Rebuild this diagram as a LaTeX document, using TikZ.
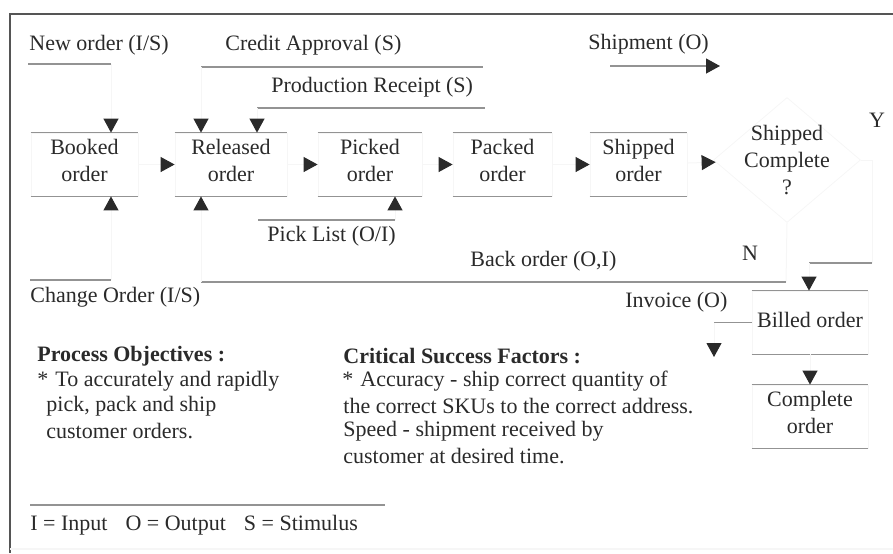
\documentclass[tikz,border=0pt]{standalone}
\usepackage{fontspec}
\setmainfont{Liberation Serif}
\usetikzlibrary{arrows.meta,shapes.geometric,calc}

\definecolor{inkc}{HTML}{2A2A2A}
\definecolor{rulec}{HTML}{939393}
\definecolor{faintc}{HTML}{F6F6F6}
\definecolor{framec}{HTML}{555555}

\begin{document}
\begin{tikzpicture}[x=0.5pt,y=-0.5pt,
  every node/.style={text=inkc, font=\fontsize{11}{13.5}\selectfont, inner sep=0pt},
  lbl/.style={anchor=west},
  statebox/.style={minimum height=31.5pt, align=center, draw=faintc, line width=0.4pt, text depth=4pt},
  rule/.style={draw=rulec, line width=0.6pt},
  faint/.style={draw=faintc, line width=0.5pt},
  tip/.style={-{Triangle[length=7pt,width=7.5pt,color=inkc,fill=inkc]}},
]
\useasboundingbox (0,0) rectangle (893,553);

% outer frame
\draw[framec, line width=0.9pt] (10,553) -- (10,14) -- (893,14);
\draw[faintc, line width=0.6pt] (10,549) -- (893,549);

% ---------- order states ----------
\node[statebox, minimum width=53.5pt] (booked)   at (84.5,164.5) {Booked\\order};
\node[statebox, minimum width=56pt]   (released) at (231,164.5)  {Released\\order};
\node[statebox, minimum width=52pt]   (picked)   at (370,164.5)  {Picked\\order};
\node[statebox, minimum width=49.5pt] (packed)   at (502.5,164.5){Packed\\order};
\node[statebox, minimum width=48.5pt] (shipped)  at (638.5,164.5){Shipped\\order};
\node[diamond, draw=faintc, line width=0.4pt, minimum width=73.5pt, minimum height=62.5pt,
      inner sep=-5pt, align=center] (dec) at (787,160) {Shipped\\Complete\\?};
\node[statebox, minimum width=58pt, text depth=3pt] (billed) at (810,322.5) {Billed order};
\node[statebox, minimum width=58pt]   (complete) at (810,416.5)  {Complete\\order};

% visible top and bottom rules of each state
\foreach \s in {booked,released,picked,packed,shipped,billed,complete}{
  \draw[rule] (\s.north west) -- (\s.north east);
  \draw[rule] (\s.south west) -- (\s.south east);
}

% main flow
\draw[faint, tip] (booked)   -- (released);
\draw[faint, tip] (released) -- (picked);
\draw[faint, tip] (picked)   -- (packed);
\draw[faint, tip] (packed)   -- (shipped);
\draw[faint, tip] (shipped)  -- (dec);
\draw[faint, tip] (billed)   -- (complete);

% ---------- inputs, outputs and stimuli ----------
\node[lbl] (newL)    at (29,45)  {New order (I/S)};
\node[lbl] (creditL) at (225,45) {Credit Approval (S)};
\node[lbl] (prodL)   at (271,87) {Production Receipt (S)};
\node[lbl] (shipL)   at (588,44) {Shipment (O)};
\node[lbl] (pickL)   at (267,236) {Pick List (O/I)};
\node[lbl] (backL)   at (470,261) {Back order (O,I)};
\node[lbl] (changeL) at (30,297) {Change Order (I/S)};
\node[lbl] (invL)    at (625,302) {Invoice (O)};
\node (yesL) at (877,120) {Y};
\node (noL)  at (750,253) {N};

% new order
\coordinate (noA) at (28,64);
\coordinate (noB) at (111,64);
\draw[rule] (noA) -- (noB);
\draw[faint, tip] (noB) -- (noB |- booked.north);

% credit approval
\coordinate (caA) at (201,67);
\coordinate (caB) at (483,67);
\draw[rule] (caA) -- (caB);
\draw[faint, tip] (caA) -- (caA |- released.north);

% production receipt
\coordinate (prA) at (257,108);
\coordinate (prB) at (485,108);
\draw[rule] (prA) -- (prB);
\draw[faint, tip] (prA) -- (prA |- released.north);

% shipment
\coordinate (shA) at (610,66);
\coordinate (shB) at (720,66);
\draw[rule, tip] (shA) -- (shB);

% change order
\coordinate (coA) at (30,280);
\coordinate (coB) at (111,280);
\draw[rule] (coA) -- (coB);
\draw[faint, tip] (coB) -- (coB |- booked.south);

% pick list
\coordinate (plA) at (258,220);
\coordinate (plB) at (395,220);
\draw[rule] (plA) -- (plB);
\draw[faint, tip] (plB) -- (plB |- picked.south);

% back order (N branch)
\coordinate (boA) at (201,282);
\coordinate (boB) at (786,282);
\draw[faint] (dec.south) -- (boB);
\draw[rule] (boB) -- (boA);
\draw[faint, tip] (boA) -- (boA |- released.south);

% shipped complete (Y branch)
\coordinate (yC) at (872,263);
\coordinate (yD) at (809,263);
\draw[faint] (dec.east) -| (yC);
\draw[rule] (yC) -- (yD);
\draw[faint, tip] (yD) -- (yD |- billed.north);

% invoice
\coordinate (inA) at (714,322.5);
\coordinate (inB) at (714,357);
\draw[rule] (billed.west) -- (inA);
\draw[faint, tip] (inA) -- (inB);

% ---------- notes ----------
\node[lbl, font=\fontsize{11}{13.5}\bfseries] (poH) at (37,356) {Process Objectives :};
\node[lbl] (po1) at (37,381) {*\hspace{3.5pt}To accurately and rapidly};
\node[lbl] (po2) at (46,406) {pick, pack and ship};
\node[lbl] (po3) at (46,431) {customer orders.};

\node[lbl, font=\fontsize{11}{13.5}\bfseries] (csH) at (343,356) {Critical Success Factors :};
\node[lbl] (cs1) at (342,381) {*\hspace{3.5pt}Accuracy - ship correct quantity of};
\node[lbl] (cs2) at (343,406) {the correct SKUs to the correct address.};
\node[lbl] (cs3) at (343,431) {Speed - shipment received by};
\node[lbl] (cs4) at (343,456) {customer at desired time.};

% legend
\coordinate (lgA) at (30,505);
\coordinate (lgB) at (385,505);
\draw[rule] (lgA) -- (lgB);
\node[lbl] (legend) at (30,525) {I = Input\hspace{9pt}O = Output\hspace{9pt}S = Stimulus};
\end{tikzpicture}
\end{document}
